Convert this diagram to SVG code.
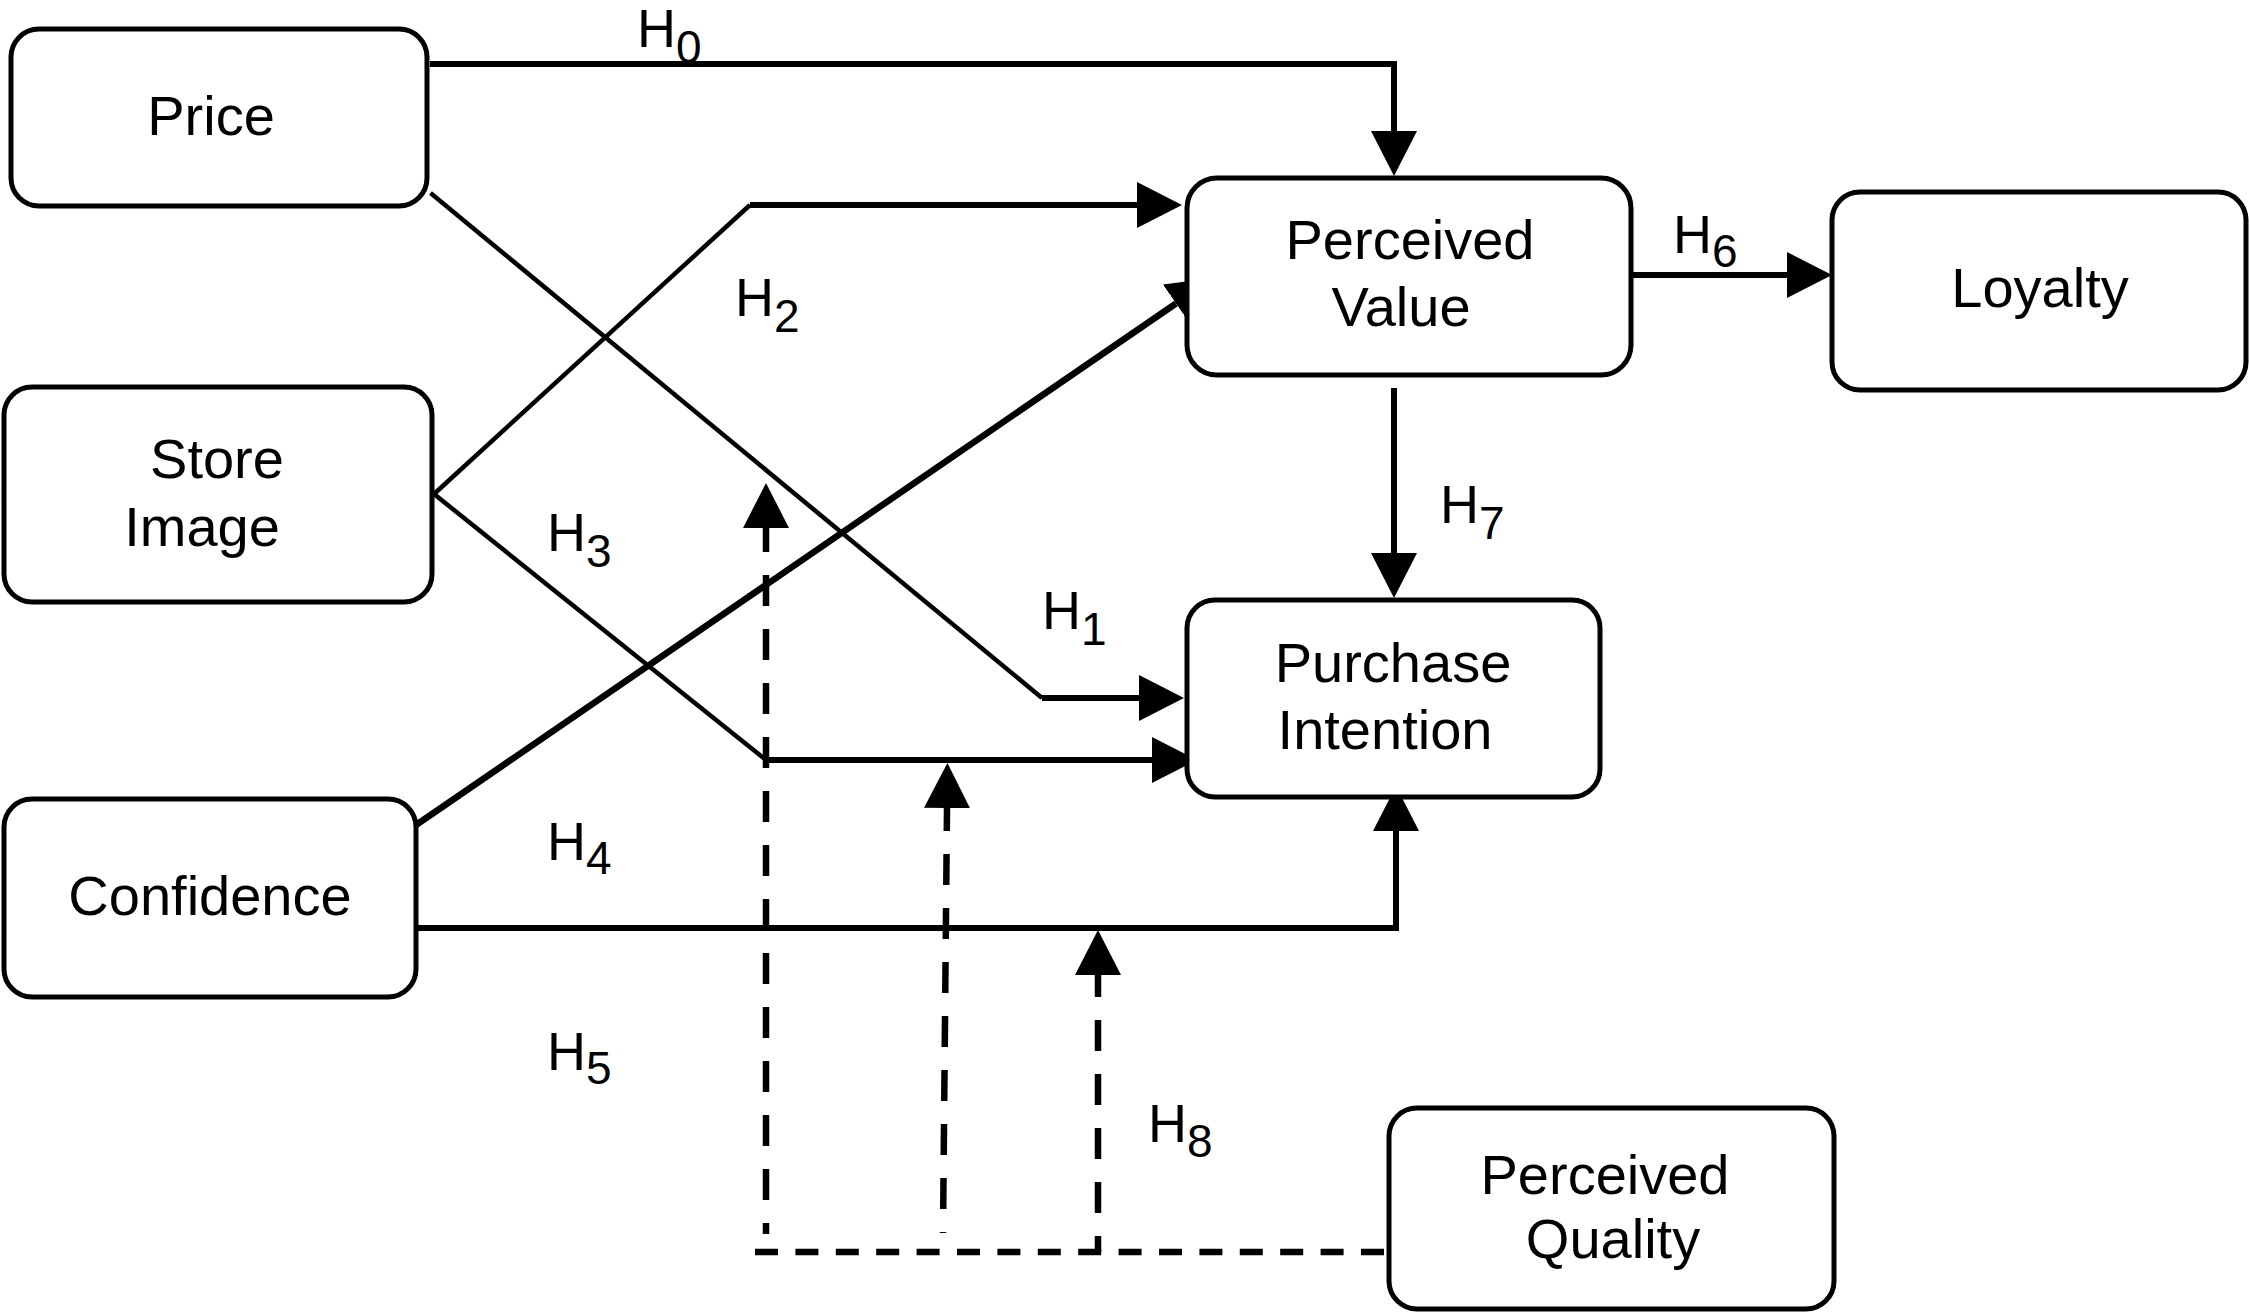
<svg xmlns="http://www.w3.org/2000/svg" width="2250" height="1312" viewBox="0 0 2250 1312">
<style>
.box{fill:#fff;stroke:#000;stroke-width:5}
.t{font-family:"Liberation Sans",Arial,sans-serif;font-size:56px;fill:#000;text-anchor:middle}
.lb{font-family:"Liberation Sans",Arial,sans-serif;font-size:54px;fill:#000}
.sub{font-size:46px}
.c{fill:none;stroke:#000;stroke-linejoin:miter}
.thin{stroke-width:4.5}
.thick{stroke-width:6}
.dash{stroke-width:6.5}
</style>
<defs>
<marker id="arr" viewBox="0 0 45 46" refX="0" refY="23" markerWidth="45" markerHeight="46" markerUnits="userSpaceOnUse" orient="auto">
<path d="M0,0 L45,23 L0,46 z" fill="#000"/>
</marker>
</defs>
<rect width="2250" height="1312" fill="#fff"/>
<g id="connectors">
<path class="c thick" d="M430,64 H1394 V131" marker-end="url(#arr)"/>
<path class="c thin" d="M430.5,193 L1042,698"/>
<path class="c thick" d="M1042,698 H1139" marker-end="url(#arr)"/>
<path class="c thin" d="M434,494 L750,205"/>
<path class="c thick" d="M750,205 H1137" marker-end="url(#arr)"/>
<path class="c thin" d="M434,494 L766,760"/>
<path class="c thick" d="M766,760 H1152" marker-end="url(#arr)"/>
<path class="c" stroke-width="6.5" d="M416,825 L1176,303.5" marker-end="url(#arr)"/>
<path class="c thick" d="M416,928 H1396 V831" marker-end="url(#arr)"/>
<path class="c thick" d="M1631,275 H1787" marker-end="url(#arr)"/>
<path class="c thick" d="M1394,388 V553" marker-end="url(#arr)"/>
<path class="c dash" stroke-dasharray="23 17.4" d="M755,1252 H1387"/>
<path class="c dash" stroke-dasharray="31 23" stroke-dashoffset="20" d="M766,1234 V528" marker-end="url(#arr)"/>
<path class="c dash" stroke-dasharray="31 23" stroke-dashoffset="30" d="M943,1233 L947,808" marker-end="url(#arr)"/>
<path class="c dash" stroke-dasharray="31 23" stroke-dashoffset="15" d="M1098,1252 V975" marker-end="url(#arr)"/>
</g>
<g id="labels">
<text class="lb" x="637" y="47">H<tspan class="sub" dy="16">0</tspan></text>
<text class="lb" x="1042" y="629">H<tspan class="sub" dy="16">1</tspan></text>
<text class="lb" x="735" y="316">H<tspan class="sub" dy="16">2</tspan></text>
<text class="lb" x="547" y="551">H<tspan class="sub" dy="16">3</tspan></text>
<text class="lb" x="547" y="860">H<tspan class="sub" dy="14">4</tspan></text>
<text class="lb" x="547" y="1070">H<tspan class="sub" dy="14">5</tspan></text>
<text class="lb" x="1673" y="253">H<tspan class="sub" dy="14">6</tspan></text>
<text class="lb" x="1440" y="523">H<tspan class="sub" dy="16">7</tspan></text>
<text class="lb" x="1148" y="1142">H<tspan class="sub" dy="15">8</tspan></text>
</g>
<g id="price">
<rect class="box" x="11" y="29" width="416" height="177" rx="28"/>
<text class="t" x="211" y="135">Price</text>
</g>
<g id="store-image">
<rect class="box" x="4" y="387" width="428" height="215" rx="28"/>
<text class="t" x="217" y="478">Store</text>
<text class="t" x="202" y="546">Image</text>
</g>
<g id="confidence">
<rect class="box" x="4" y="799" width="412" height="198" rx="28"/>
<text class="t" x="210" y="915">Confidence</text>
</g>
<g id="perceived-value">
<rect class="box" x="1187" y="178" width="444" height="197" rx="30"/>
<text class="t" x="1410" y="259">Perceived</text>
<text class="t" x="1401" y="326">Value</text>
</g>
<g id="loyalty">
<rect class="box" x="1832" y="192" width="414" height="198" rx="28"/>
<text class="t" x="2040" y="307">Loyalty</text>
</g>
<g id="purchase-intention">
<rect class="box" x="1187" y="600" width="413" height="197" rx="28"/>
<text class="t" x="1393" y="682">Purchase</text>
<text class="t" x="1385" y="749">Intention</text>
</g>
<g id="perceived-quality">
<rect class="box" x="1389" y="1108" width="445" height="201" rx="28"/>
<text class="t" x="1605" y="1194">Perceived</text>
<text class="t" x="1613" y="1258">Quality</text>
</g>
</svg>
